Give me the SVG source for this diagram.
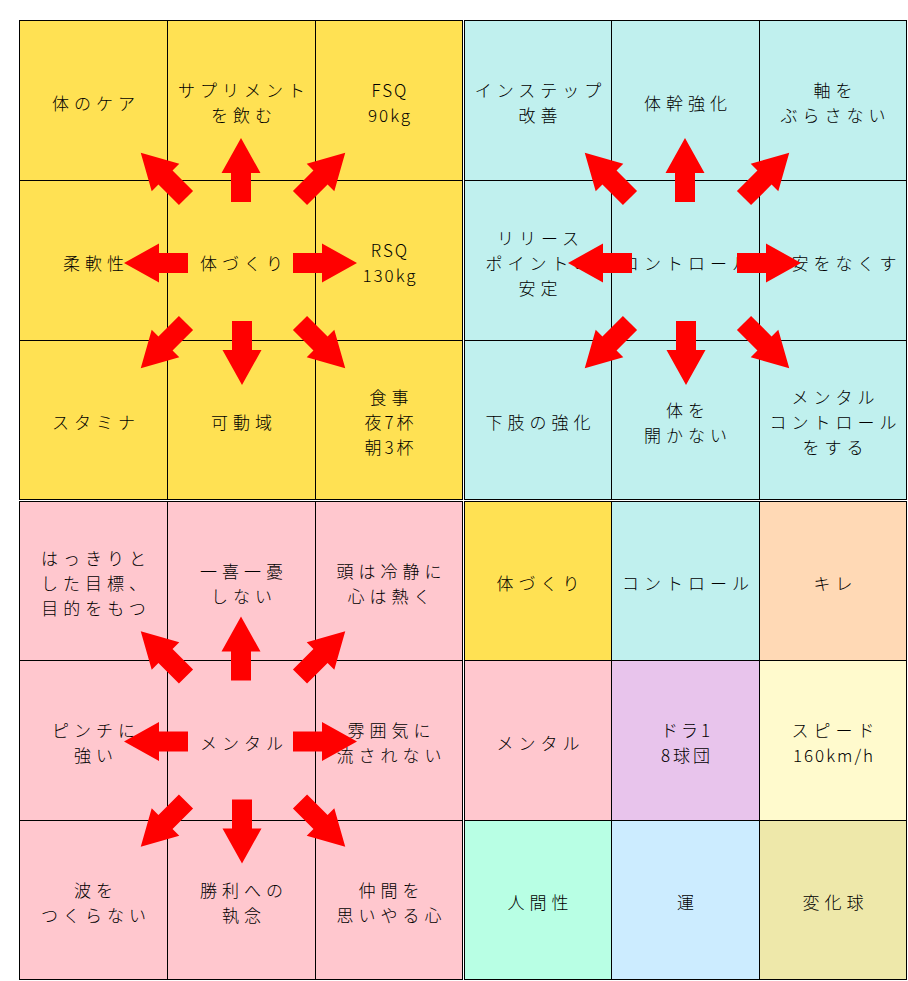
<svg xmlns="http://www.w3.org/2000/svg" xmlns:xlink="http://www.w3.org/1999/xlink" width="908" height="981" viewBox="0 0 908 981">
<style>
.c{stroke:#000;stroke-width:1}
.y{fill:#FFE153}.cy{fill:#C0F0EE}.p{fill:#FFC7CE}.pe{fill:#FFD9B5}.pu{fill:#E8C4EC}.ly{fill:#FFFACD}.mi{fill:#B8FFE4}.lb{fill:#CCECFF}.kh{fill:#EEE8AA}
text{font-family:"Noto Sans CJK JP","Liberation Sans",sans-serif;font-size:17px;font-weight:300;fill:#000;text-anchor:middle;letter-spacing:5px}
.l{letter-spacing:2px}.m{letter-spacing:3px}
.a{fill:#FF0000}
</style>
<defs>
<path id="arrow" class="a" d="M0,-10 H29 V-19.5 L64,0 L29,19.5 V10 H0 Z"/>
<g id="burst">
<use xlink:href="#arrow" transform="translate(241,202) rotate(-90)"/>
<use xlink:href="#arrow" transform="translate(242,321) rotate(90)"/>
<use xlink:href="#arrow" transform="translate(188,263) rotate(180)"/>
<use xlink:href="#arrow" transform="translate(293,263)"/>
<use xlink:href="#arrow" transform="translate(186,198) rotate(-135)"/>
<use xlink:href="#arrow" transform="translate(300,198) rotate(-45)"/>
<use xlink:href="#arrow" transform="translate(186,323) rotate(135)"/>
<use xlink:href="#arrow" transform="translate(300,323) rotate(45)"/>
</g>
</defs>
<rect width="908" height="981" fill="#fff"/>

<!-- Top-left quadrant -->
<g id="tl-1"><rect class="c y" x="19.5" y="20.5" width="148" height="160"/><text x="96" y="109.5">体のケア</text></g>
<g id="tl-2"><rect class="c y" x="167.5" y="20.5" width="148" height="160"/><text x="244" y="97">サプリメント</text><text x="244" y="122">を飲む</text></g>
<g id="tl-3"><rect class="c y" x="315.5" y="20.5" width="147" height="160"/><text class="l" x="390" y="97">FSQ</text><text class="l" x="390" y="122">90kg</text></g>
<g id="tl-4"><rect class="c y" x="19.5" y="180.5" width="148" height="160"/><text x="96" y="269.5">柔軟性</text></g>
<g id="tl-5"><rect class="c y" x="167.5" y="180.5" width="148" height="160"/><text x="244" y="269.5">体づくり</text></g>
<g id="tl-6"><rect class="c y" x="315.5" y="180.5" width="147" height="160"/><text class="l" x="390" y="257">RSQ</text><text class="l" x="390" y="282">130kg</text></g>
<g id="tl-7"><rect class="c y" x="19.5" y="340.5" width="148" height="159"/><text x="96" y="429">スタミナ</text></g>
<g id="tl-8"><rect class="c y" x="167.5" y="340.5" width="148" height="159"/><text x="244" y="429">可動域</text></g>
<g id="tl-9"><rect class="c y" x="315.5" y="340.5" width="147" height="159"/><text x="391.5" y="404">食事</text><text class="m" x="390.5" y="429">夜7杯</text><text class="m" x="390.5" y="454">朝3杯</text></g>

<!-- Top-right quadrant -->
<g id="tr-1"><rect class="c cy" x="464.5" y="20.5" width="147" height="160"/><text x="540.5" y="97">インステップ</text><text x="540.5" y="122">改善</text></g>
<g id="tr-2"><rect class="c cy" x="611.5" y="20.5" width="148" height="160"/><text x="688" y="109.5">体幹強化</text></g>
<g id="tr-3"><rect class="c cy" x="759.5" y="20.5" width="147" height="160"/><text x="835.5" y="97">軸を</text><text x="835.5" y="122">ぶらさない</text></g>
<g id="tr-4"><rect class="c cy" x="464.5" y="180.5" width="147" height="160"/><text x="540.5" y="244.5">リリース</text><text x="540.5" y="269.5">ポイントの</text><text x="540.5" y="294.5">安定</text></g>
<g id="tr-5"><rect class="c cy" x="611.5" y="180.5" width="148" height="160"/><text x="688" y="269.5">コントロール</text></g>
<g id="tr-6"><rect class="c cy" x="759.5" y="180.5" width="147" height="160"/><text x="835.5" y="269.5">不安をなくす</text></g>
<g id="tr-7"><rect class="c cy" x="464.5" y="340.5" width="147" height="159"/><text x="540.5" y="429">下肢の強化</text></g>
<g id="tr-8"><rect class="c cy" x="611.5" y="340.5" width="148" height="159"/><text x="688" y="416.5">体を</text><text x="688" y="441.5">開かない</text></g>
<g id="tr-9"><rect class="c cy" x="759.5" y="340.5" width="147" height="159"/><text x="835.5" y="404">メンタル</text><text x="835.5" y="429">コントロール</text><text x="835.5" y="454">をする</text></g>

<!-- Bottom-left quadrant -->
<g id="bl-1"><rect class="c p" x="19.5" y="501.5" width="148" height="159"/><text x="96" y="565">はっきりと</text><text x="96" y="590">した目標、</text><text x="96" y="615">目的をもつ</text></g>
<g id="bl-2"><rect class="c p" x="167.5" y="501.5" width="148" height="159"/><text x="244" y="577.5">一喜一憂</text><text x="244" y="602.5">しない</text></g>
<g id="bl-3"><rect class="c p" x="315.5" y="501.5" width="147" height="159"/><text x="391.5" y="577.5">頭は冷静に</text><text x="391.5" y="602.5">心は熱く</text></g>
<g id="bl-4"><rect class="c p" x="19.5" y="660.5" width="148" height="160"/><text x="96" y="737">ピンチに</text><text x="96" y="762">強い</text></g>
<g id="bl-5"><rect class="c p" x="167.5" y="660.5" width="148" height="160"/><text x="244" y="749.5">メンタル</text></g>
<g id="bl-6"><rect class="c p" x="315.5" y="660.5" width="147" height="160"/><text x="391.5" y="737">雰囲気に</text><text x="391.5" y="762">流されない</text></g>
<g id="bl-7"><rect class="c p" x="19.5" y="820.5" width="148" height="159"/><text x="96" y="896.5">波を</text><text x="96" y="921.5">つくらない</text></g>
<g id="bl-8"><rect class="c p" x="167.5" y="820.5" width="148" height="159"/><text x="244" y="896.5">勝利への</text><text x="244" y="921.5">執念</text></g>
<g id="bl-9"><rect class="c p" x="315.5" y="820.5" width="147" height="159"/><text x="391.5" y="896.5">仲間を</text><text x="391.5" y="921.5">思いやる心</text></g>

<!-- Bottom-right quadrant -->
<g id="br-1"><rect class="c y" x="464.5" y="501.5" width="147" height="159"/><text x="540.5" y="590">体づくり</text></g>
<g id="br-2"><rect class="c cy" x="611.5" y="501.5" width="148" height="159"/><text x="688" y="590">コントロール</text></g>
<g id="br-3"><rect class="c pe" x="759.5" y="501.5" width="147" height="159"/><text x="835.5" y="590">キレ</text></g>
<g id="br-4"><rect class="c p" x="464.5" y="660.5" width="147" height="160"/><text x="540.5" y="749.5">メンタル</text></g>
<g id="br-5"><rect class="c pu" x="611.5" y="660.5" width="148" height="160"/><text class="m" x="687" y="737">ドラ1</text><text class="m" x="687" y="762">8球団</text></g>
<g id="br-6"><rect class="c ly" x="759.5" y="660.5" width="147" height="160"/><text x="835.5" y="737">スピード</text><text class="l" x="834" y="762">160km/h</text></g>
<g id="br-7"><rect class="c mi" x="464.5" y="820.5" width="147" height="159"/><text x="540.5" y="909">人間性</text></g>
<g id="br-8"><rect class="c lb" x="611.5" y="820.5" width="148" height="159"/><text x="688" y="909">運</text></g>
<g id="br-9"><rect class="c kh" x="759.5" y="820.5" width="147" height="159"/><text x="835.5" y="909">変化球</text></g>

<!-- Connectors (arrows) -->
<g id="connectors">
<use xlink:href="#burst"/>
<use xlink:href="#burst" transform="translate(444,0)"/>
<use xlink:href="#burst" transform="translate(0,478.5)"/>
</g>
</svg>
